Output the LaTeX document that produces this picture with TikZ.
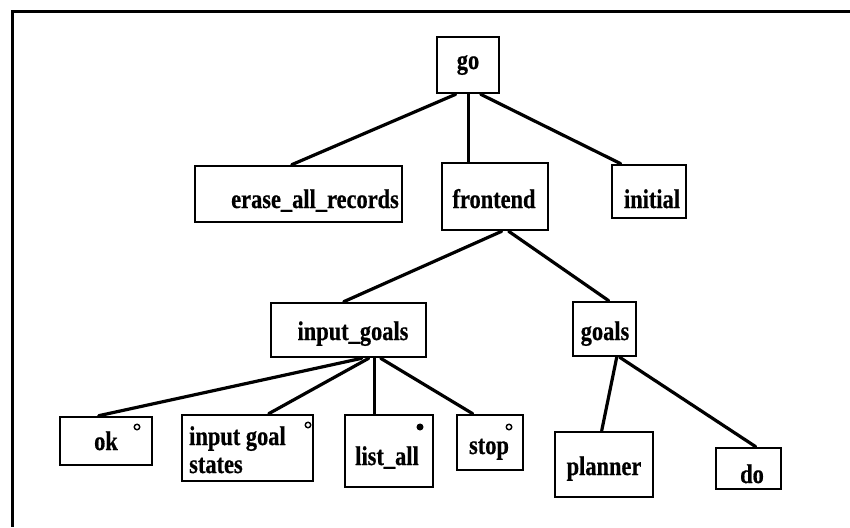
\documentclass[tikz,border=0pt]{standalone}
\usepackage{fontspec}
\setmainfont{Liberation Serif}
\newfontfamily\lblfont[FakeStretch=0.83,FakeBold=0.6]{Liberation Serif Bold}
\usetikzlibrary{calc}
\begin{document}
\begin{tikzpicture}[x=1pt,y=-1pt,
  box/.style={draw, line width=2.6pt, inner sep=0pt, rectangle},
  lbl/.style={font=\fontsize{27}{28}\lblfont, inner sep=0pt, anchor=base},
  ring/.style={circle, draw, line width=1.4pt, inner sep=0pt, minimum size=5.5pt},
  link/.style={line width=3.2pt, line cap=round}]
\useasboundingbox (0,0) rectangle (850,527);

% page frame (top and left edges)
\draw[line width=3pt] (850,12) -- (12,12) -- (12,527);

% boxes
\node[box, minimum width=62pt,  minimum height=56pt] (go)       at (468,65) {};
\node[box, minimum width=207pt, minimum height=56pt] (erase)    at (298.5,194) {};
\node[box, minimum width=106pt, minimum height=67pt] (frontend) at (495,196.5) {};
\node[box, minimum width=74pt,  minimum height=53pt] (initial)  at (649,191.5) {};
\node[box, minimum width=155pt, minimum height=54pt] (inputg)   at (348.5,330) {};
\node[box, minimum width=63pt,  minimum height=54pt] (goals)    at (604.5,329) {};
\node[box, minimum width=92pt,  minimum height=48pt] (ok)       at (106,441) {};
\node[box, minimum width=131pt, minimum height=66pt] (igs)      at (247.5,448) {};
\node[box, minimum width=88pt,  minimum height=72pt] (listall)  at (389,451) {};
\node[box, minimum width=66pt,  minimum height=55pt] (stop)     at (490,442.5) {};
\node[box, minimum width=98pt,  minimum height=65pt] (planner)  at (604,464.5) {};
\node[box, minimum width=65pt,  minimum height=41pt] (do)       at (748.5,468.5) {};

% labels
\node[lbl] (tgo)       at (468,69)  {go};
\node[lbl] (terase)    at (315,208) {erase\_all\_records};
\node[lbl] (tfrontend) at (494,208) {frontend};
\node[lbl] (tinitial)  at (652,208) {initial};
\node[lbl] (tinputg)   at (353,340) {input\_goals};
\node[lbl] (tgoals)    at (605,340) {goals};
\node[lbl] (tok)       at (106,450) {ok};
\node[lbl, anchor=base west] (tigs1) at (189,445) {input goal};
\node[lbl, anchor=base west] (tigs2) at (189,473) {states};
\node[lbl] (tlistall)  at (387,465) {list\_all};
\node[lbl] (tstop)     at (489,454) {stop};
\node[lbl] (tplanner)  at (604,475) {planner};
\node[lbl] (tdo)       at (752,483) {do};

% small circle marks
\node[ring] (mok)   at (137,427) {};
\node[ring] (migs)  at (308,425) {};
\node[ring, fill] (mlist) at (420,427) {};
\node[ring] (mstop) at (509,427) {};

% tree links
\draw[link] ($(go.south west)+(20,0)$)       -- ($(erase.north west)+(98,0)$);
\draw[link] ($(go.south west)+(33,0)$)       -- ($(frontend.north west)+(28,0)$);
\draw[link] ($(go.south west)+(45,0)$)       -- ($(initial.north west)+(10,0)$);
\draw[link] ($(frontend.south west)+(61,0)$) -- ($(inputg.north west)+(74,0)$);
\draw[link] ($(frontend.south west)+(68,0)$) -- ($(goals.north west)+(37,0)$);
\draw[link] ($(inputg.south west)+(92,0)$)   -- ($(ok.north west)+(40,0)$);
\draw[link] ($(inputg.south west)+(99,0)$)   -- ($(igs.north west)+(88,0)$);
\draw[link] ($(inputg.south west)+(105,0)$)  -- ($(listall.north west)+(31,0)$);
\draw[link] ($(inputg.south west)+(111,0)$)  -- ($(stop.north west)+(17,0)$);
\draw[link] ($(goals.south west)+(45,0)$)    -- ($(planner.north west)+(48,0)$);
\draw[link] ($(goals.south west)+(48,0)$)    -- ($(do.north west)+(41,0)$);
\end{tikzpicture}
\end{document}
